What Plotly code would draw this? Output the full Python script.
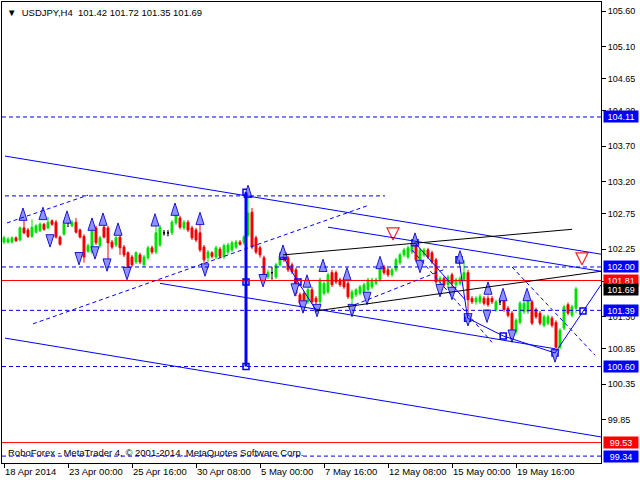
import plotly.graph_objects as go

# ---------------- data (USDJPY H4) ----------------
bar_open = [102.35,102.35,102.35,102.41,102.38,102.55,102.52,102.43,102.49,102.51,
            102.60,102.55,102.65,102.63,102.42,102.46,102.62,102.58,102.63,102.52,
            102.43,102.22,102.21,102.55,102.30,102.56,102.55,102.35,102.31,102.42,
            102.28,102.20,102.14,102.07,102.17,102.03,102.13,102.27,102.21,102.31,
            102.48,102.48,102.48,102.62,102.69,102.55,102.63,102.55,102.52,102.48,
            102.28,102.13,102.20,102.14,102.25,102.14,102.21,102.24,102.28,102.35,
            102.34,102.45,102.77,102.41,102.27,102.13,101.86,101.92,101.86,102.03,
            102.17,102.13,102.03,101.96,101.61,101.63,101.51,101.68,101.56,101.51,
            101.63,101.65,101.92,101.92,101.82,101.82,101.77,101.56,101.61,101.63,
            101.65,101.68,101.72,101.77,101.82,102.00,101.96,101.89,101.96,102.06,
            102.17,102.14,102.21,102.34,102.07,102.17,102.24,102.20,102.10,101.79,
            101.84,101.75,101.89,101.75,101.77,101.82,101.92,101.56,101.51,101.51,
            101.56,101.56,101.56,101.40,101.51,101.54,101.42,101.35,101.09,101.22,
            101.37,101.37,101.51,101.40,101.35,101.18,101.21,101.28,101.22,100.87,
            101.14,101.47,101.32,101.42]
bar_high = [102.44,102.42,102.43,102.43,102.57,102.69,102.55,102.67,102.60,102.63,
            102.62,102.70,102.67,102.66,102.44,102.66,102.66,102.66,102.69,102.54,
            102.46,102.33,102.56,102.58,102.44,102.59,102.58,102.38,102.44,102.48,
            102.31,102.22,102.17,102.22,102.20,102.17,102.30,102.30,102.62,102.59,
            102.51,102.51,102.66,102.80,102.72,102.66,102.66,102.58,102.55,102.63,
            102.31,102.24,102.22,102.30,102.28,102.33,102.34,102.37,102.38,102.38,
            102.45,103.01,102.83,102.44,102.30,102.16,101.96,101.99,102.06,102.16,
            102.20,102.16,102.06,101.99,101.64,101.66,101.72,101.72,101.59,101.85,
            101.80,101.92,101.96,101.95,101.85,101.85,101.80,101.68,101.70,101.75,
            101.78,101.85,101.85,101.85,102.06,102.03,101.99,101.99,102.13,102.20,
            102.27,102.30,102.34,102.37,102.27,102.27,102.27,102.23,102.13,101.87,
            101.87,101.89,101.92,101.85,101.87,102.10,101.96,101.59,101.59,101.62,
            101.59,101.60,101.59,101.54,101.55,101.57,101.45,101.38,101.28,101.52,
            101.52,101.60,101.54,101.43,101.38,101.33,101.33,101.31,101.25,101.14,
            101.47,101.50,101.47,101.72]
bar_low = [102.32,102.33,102.33,102.35,102.36,102.46,102.41,102.41,102.47,102.49,
           102.51,102.53,102.58,102.40,102.30,102.44,102.57,102.56,102.47,102.40,
           102.06,102.20,102.18,102.31,102.27,102.40,102.06,102.25,102.28,102.17,
           102.14,101.93,102.00,102.04,102.04,102.00,102.10,102.18,102.18,102.28,
           102.45,102.44,102.45,102.59,102.53,102.52,102.49,102.38,102.35,102.21,
           102.06,102.08,102.12,102.11,102.12,102.11,102.18,102.21,102.25,102.30,
           102.31,102.42,102.25,102.18,102.13,101.86,101.83,101.83,101.83,102.00,
           102.07,101.93,101.90,101.59,101.44,101.48,101.48,101.48,101.47,101.48,
           101.60,101.62,101.72,101.76,101.72,101.69,101.55,101.44,101.58,101.60,
           101.62,101.65,101.69,101.74,101.79,101.89,101.86,101.86,101.93,102.03,
           102.14,102.11,102.18,102.07,102.04,102.14,102.11,102.04,101.76,101.72,
           101.72,101.70,101.70,101.72,101.74,101.79,101.25,101.48,101.47,101.48,
           101.46,101.44,101.48,101.37,101.47,101.37,101.29,101.04,101.05,101.19,
           101.34,101.34,101.18,101.27,101.18,101.15,101.18,101.15,100.80,100.84,
           101.11,101.32,101.29,101.35]
bar_close = [102.41,102.39,102.41,102.37,102.55,102.48,102.43,102.56,102.58,102.60,
             102.53,102.63,102.60,102.42,102.32,102.60,102.62,102.63,102.49,102.42,
             102.14,102.30,102.52,102.34,102.41,102.42,102.34,102.28,102.41,102.27,
             102.17,102.00,102.03,102.20,102.07,102.14,102.27,102.21,102.48,102.56,
             102.48,102.48,102.63,102.76,102.56,102.63,102.52,102.41,102.38,102.24,
             102.10,102.21,102.15,102.27,102.15,102.30,102.31,102.34,102.35,102.32,
             102.42,102.76,102.28,102.21,102.17,101.89,101.92,101.92,102.03,102.13,
             102.10,101.96,101.93,101.63,101.49,101.51,101.68,101.51,101.51,101.82,
             101.77,101.89,101.75,101.79,101.75,101.72,101.58,101.65,101.68,101.72,
             101.75,101.82,101.82,101.82,102.03,101.92,101.89,101.96,102.10,102.17,
             102.24,102.27,102.31,102.10,102.24,102.24,102.14,102.07,101.79,101.84,
             101.75,101.86,101.77,101.82,101.84,101.92,101.54,101.51,101.56,101.58,
             101.49,101.47,101.51,101.51,101.51,101.40,101.32,101.07,101.25,101.49,
             101.49,101.56,101.21,101.30,101.21,101.30,101.30,101.18,100.87,101.11,
             101.44,101.35,101.44,101.69]

tick_bars = [0, 16, 32, 48, 64, 80, 96, 112, 128]
tick_labels = ["18 Apr 2014", "23 Apr 00:00", "25 Apr 16:00", "30 Apr 08:00", "5 May 00:00",
               "7 May 16:00", "12 May 08:00", "15 May 00:00", "19 May 16:00"]
price_ticks = [105.60, 105.10, 104.65, 104.20, 103.70, 103.20, 102.75, 102.25,
               101.80, 101.30, 100.85, 100.35, 99.85]

# horizontal levels
dashed_levels = [104.11, 102.00, 101.39, 100.60, 99.34]
red_levels = [101.81, 99.53]
level_103 = [(0.25, 103.00), (95.25, 103.00)]

# price labels on the right scale
label_prices = [104.11, 102.00, 101.81, 101.69, 101.39, 100.60, 99.53, 99.34]
label_colors = ["#0000ff", "#0000ff", "#ff0000", "#000000", "#0000ff", "#0000ff", "#ff0000", "#0000ff"]

# trend lines (bar index, price)
channel_upper = [(0.25, 103.56), (149.25, 102.18)]
channel_lower = [(0.25, 101.00), (149.25, 99.61)]
channel_mid = [(39.0, 101.77), (137.75, 100.85)]
line_upper2 = [(81.0, 102.56), (149.25, 101.94)]
black_line1 = [(69.75, 102.17), (142.0, 102.53)]
black_line2 = [(77.75, 101.38), (149.25, 101.94)]
dashed_rise1 = [(7.25, 101.20), (90.75, 102.86)]
dashed_rise2 = [(0.75, 102.62), (21.0, 103.01)]
dashed_rise3 = [(87.75, 101.47), (110.25, 101.97)]
dashed_fall1 = [(102.0, 102.24), (122.0, 100.94)]
dashed_fall2 = [(127.0, 102.00), (147.75, 100.76)]
zigzag1 = [(69.75, 102.15), (73.5, 101.79), (78.25, 101.37)]
zigzag2 = [(113.75, 102.10), (115.9, 101.28), (124.8, 101.03), (137.75, 100.79), (149.25, 101.75)]
zigzag3 = [(102.75, 102.34), (115.25, 101.54)]
vertical_bar = [(60.5, 103.05), (60.5, 100.60)]

square_x = [69.75, 73.5, 102.75, 113.75, 115.9, 124.8, 137.75, 144.75, 60.5, 60.5, 60.5]
square_y = [102.15, 101.79, 102.34, 102.10, 101.28, 101.03, 100.79, 101.38, 103.05, 101.79, 100.60]

frac_up_x = [4.75, 9.75, 15.75, 22.0, 24.75, 28.5, 37.75, 42.75, 49.0, 61.0, 69.75, 75.75,
             79.75, 85.75, 94.0, 102.75, 114.0, 121.0, 124.75, 130.75]
frac_up_y = [102.83, 102.84, 102.79, 102.69, 102.76, 102.62, 102.75, 102.90, 102.77, 103.15,
             102.31, 101.89, 102.11, 101.99, 102.15, 102.48, 102.23, 101.79, 101.70, 101.70]
frac_dn_x = [11.5, 18.75, 22.75, 25.75, 30.75, 50.25, 64.75, 72.75, 74.75, 78.25, 87.0, 90.75,
             104.0, 109.0, 112.0, 116.0, 120.75, 127.0, 137.75]
frac_dn_y = [102.28, 102.03, 102.11, 101.94, 101.82, 101.87, 101.72, 101.59, 101.35, 101.30,
             101.30, 101.47, 101.92, 101.58, 101.54, 101.17, 101.22, 100.94, 100.66]
sell_x = [97.25, 144.5]
sell_y = [102.38, 102.03]

# ---------------- figure ----------------
FONT = "Liberation Sans"
FS = 9
BLUE = "#0000ff"
fig = go.Figure()

idx = list(range(len(bar_open)))
norm = [i for i in idx if bar_open[i] != bar_close[i]]
doji = [i for i in idx if bar_open[i] == bar_close[i]]

fig.add_trace(go.Candlestick(
    x=norm, open=[bar_open[i] for i in norm], high=[bar_high[i] for i in norm],
    low=[bar_low[i] for i in norm], close=[bar_close[i] for i in norm],
    increasing=dict(line=dict(color="#00e000", width=1), fillcolor="#00e000"),
    decreasing=dict(line=dict(color="#ee0000", width=1), fillcolor="#ee0000"),
    whiskerwidth=0, hoverinfo="skip"))
fig.add_trace(go.Candlestick(
    x=doji, open=[bar_open[i] for i in doji], high=[bar_high[i] for i in doji],
    low=[bar_low[i] for i in doji], close=[bar_close[i] for i in doji],
    increasing=dict(line=dict(color="#000000", width=1), fillcolor="#000000"),
    decreasing=dict(line=dict(color="#000000", width=1), fillcolor="#000000"),
    whiskerwidth=0.6, hoverinfo="skip"))

shapes = []

def seg(pts, color, width=1, dash="solid"):
    for (x0, y0), (x1, y1) in zip(pts[:-1], pts[1:]):
        shapes.append(dict(type="line", xref="x", yref="y", x0=x0, y0=y0, x1=x1, y1=y1,
                           line=dict(color=color, width=width, dash=dash)))

DASH = "4px,3px"
for lv in dashed_levels:
    shapes.append(dict(type="line", xref="paper", yref="y", x0=0, x1=1, y0=lv, y1=lv,
                       line=dict(color=BLUE, width=1, dash=DASH)))
for lv in red_levels:
    shapes.append(dict(type="line", xref="paper", yref="y", x0=0, x1=1, y0=lv, y1=lv,
                       line=dict(color="#ff0000", width=1)))
seg(level_103, BLUE, 1, DASH)
seg(channel_upper, BLUE)
seg(channel_lower, BLUE)
seg(channel_mid, BLUE)
seg(line_upper2, BLUE)
seg(black_line1, "#000000")
seg(black_line2, "#000000")
seg(dashed_rise1, BLUE, 1, DASH)
seg(dashed_rise2, BLUE, 1, DASH)
seg(dashed_rise3, BLUE, 1, DASH)
seg(dashed_fall1, BLUE, 1, DASH)
seg(dashed_fall2, BLUE, 1, DASH)
seg(zigzag1, BLUE)
seg(zigzag2, BLUE)
seg(zigzag3, BLUE)
seg(vertical_bar, BLUE, 3)

fig.add_trace(go.Scatter(x=square_x, y=square_y, mode="markers",
                         marker=dict(symbol="square-open", size=6, color=BLUE, line=dict(width=1.5)),
                         hoverinfo="skip"))
fig.add_trace(go.Scatter(x=frac_up_x, y=frac_up_y, mode="markers",
                         marker=dict(symbol="arrow", size=13, color="#9090ff",
                                     line=dict(color="#1a1acc", width=1)), hoverinfo="skip"))
fig.add_trace(go.Scatter(x=frac_dn_x, y=frac_dn_y, mode="markers",
                         marker=dict(symbol="arrow", angle=180, size=13, color="#9090ff",
                                     line=dict(color="#1a1acc", width=1)), hoverinfo="skip"))
fig.add_trace(go.Scatter(x=sell_x, y=sell_y, mode="markers",
                         marker=dict(symbol="arrow-down-open", size=12, color="#ff2020",
                                     line=dict(width=1.2)), hoverinfo="skip"))

annotations = []
for p, c in zip(label_prices, label_colors):
    annotations.append(dict(xref="paper", yref="y", x=1, y=p, xanchor="left", yanchor="middle",
                            xshift=2, text=f"{p:.2f}", showarrow=False, bgcolor=c,
                            width=34, height=11, borderpad=0,
                            font=dict(family=FONT, size=FS, color="#ffffff")))
annotations.append(dict(xref="paper", yref="paper", x=0, y=1, xanchor="left", yanchor="top",
                        xshift=3, yshift=-3, showarrow=False,
                        text="\u25bc\u00a0\u00a0USDJPY,H4\u00a0\u00a0101.42\u00a0101.72\u00a0101.35\u00a0101.69",
                        font=dict(family=FONT, size=FS + 0.5, color="#000000")))
annotations.append(dict(xref="paper", yref="paper", x=0, y=0, xanchor="left", yanchor="bottom",
                        xshift=4, yshift=3, showarrow=False,
                        text="RoboForex - MetaTrader 4, \u00a9 2001-2014, MetaQuotes Software Corp.",
                        font=dict(family=FONT, size=FS + 0.5, color="#000000")))

fig.update_layout(
    width=640, height=480,
    margin=dict(l=2, r=39, t=2, b=17, autoexpand=False),
    paper_bgcolor="#ffffff", plot_bgcolor="#ffffff",
    showlegend=False,
    shapes=shapes, annotations=annotations,
    font=dict(family=FONT, size=FS, color="#000000"),
    xaxis=dict(range=[-0.5, 149.25], tickvals=tick_bars, ticktext=tick_labels,
               ticks="outside", ticklen=4, tickcolor="#000000", tickangle=0,
               ticklabelposition="outside right", automargin=False,
               tickfont=dict(family=FONT, size=FS + 0.5),
               showline=True, linecolor="#000000", linewidth=1, mirror=True,
               showgrid=False, zeroline=False, rangeslider=dict(visible=False),
               fixedrange=True),
    yaxis=dict(range=[99.243, 105.727], side="right", tickvals=price_ticks,
               ticktext=[f"{v:.2f}" for v in price_ticks], automargin=False,
               ticks="outside", ticklen=4, tickcolor="#000000", ticklabelstandoff=0,
               tickfont=dict(family=FONT, size=FS),
               showline=True, linecolor="#000000", linewidth=1, mirror=True,
               showgrid=False, zeroline=False, fixedrange=True),
)

fig.write_html("out.html", config={"displayModeBar": False},
               post_script="document.body.style.margin='0px';document.body.style.overflow='hidden';")
